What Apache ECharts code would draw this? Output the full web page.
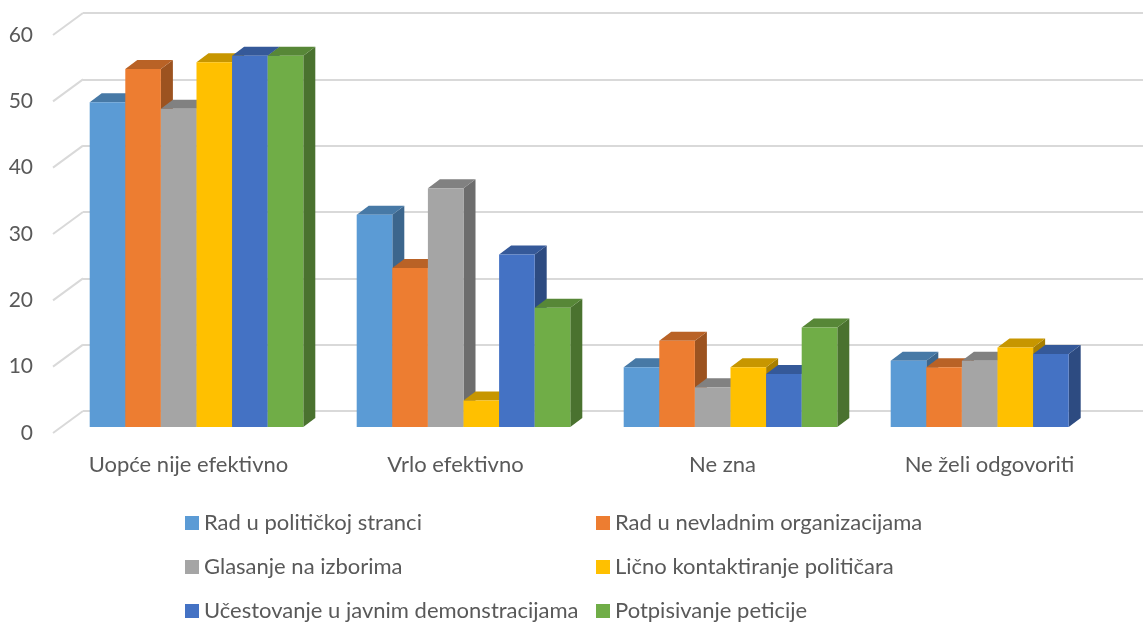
<!DOCTYPE html>
<html>
<head>
<meta charset="utf-8">
<script src="https://cdn.jsdelivr.net/npm/echarts@6/dist/echarts.min.js"></script>
<style>
  html, body { margin: 0; padding: 0; background: #fff; }
  #chart { width: 1143px; height: 624px; }
</style>
</head>
<body>
<div id="chart"></div>
<script>
const categories = ['Uopće nije efektivno', 'Vrlo efektivno', 'Ne zna', 'Ne želi odgovoriti'];
const seriesNames = [
  'Rad u političkoj stranci',
  'Rad u nevladnim organizacijama',
  'Glasanje na izborima',
  'Lično kontaktiranje političara',
  'Učestovanje u javnim demonstracijama',
  'Potpisivanje peticije'
];
const politickaStranka = [49, 32, 9, 10];
const nevladineOrg = [54, 24, 13, 9];
const glasanje = [48, 36, 6, 10];
const kontaktiranje = [55, 4, 9, 12];
const demonstracije = [56, 26, 8, 11];
const peticija = [56, 18, 15, null];
const seriesValues = [politickaStranka, nevladineOrg, glasanje, kontaktiranje, demonstracije, peticija];
const yTicks = [0, 10, 20, 30, 40, 50, 60];

const colors = ['#5B9BD5', '#ED7D31', '#A5A5A5', '#FFC000', '#4472C4', '#70AD47'];
const FONT = 'Lato';
const TEXT = '#595959';
const DX = 12, DY = 9;      // depth of a bar
const WX = 30, WY = 22;     // depth of the floor

function shade(hex, f) {
  const n = parseInt(hex.slice(1), 16);
  const r = Math.round(((n >> 16) & 255) * f);
  const g = Math.round(((n >> 8) & 255) * f);
  const b = Math.round((n & 255) * f);
  return 'rgb(' + r + ',' + g + ',' + b + ')';
}

function barRenderer(k) {
  return function (params, api) {
    const val = api.value(1);
    if (val == null || isNaN(val)) return null;
    const cat = api.value(0);
    const base = api.coord([cat, 0]);
    const top = api.coord([cat, val]);
    const band = api.size([1, 0])[0];
    const w = band * 0.8 / 6;
    const x0 = base[0] + (k - 3) * w;
    const x1 = x0 + w;
    const ty = top[1], by = base[1];
    const c = colors[k];
    return {
      type: 'group',
      children: [
        { type: 'polygon', shape: { points: [[x1, ty], [x1 + DX, ty - DY], [x1 + DX, by - DY], [x1, by]] },
          style: { fill: shade(c, 0.66) } },
        { type: 'polygon', shape: { points: [[x0, ty], [x1, ty], [x1 + DX, ty - DY], [x0 + DX, ty - DY]] },
          style: { fill: shade(c, 0.78) } },
        { type: 'rect', shape: { x: x0, y: ty, width: w, height: by - ty },
          style: { fill: c } }
      ]
    };
  };
}

const chart = echarts.init(document.getElementById('chart'));

const series = [
  {
    type: 'custom',
    xAxisIndex: 0, yAxisIndex: 0,
    silent: true,
    data: yTicks.map(v => [0, v]),
    renderItem: function (params, api) {
      const p = api.coord([0, api.value(1)]);
      return { type: 'line', shape: { x1: p[0] - WX, y1: p[1] + WY, x2: p[0], y2: p[1] },
        style: { stroke: '#D9D9D9', lineWidth: 2 } };
    }
  }
];
seriesValues.forEach(function (vals, k) {
  series.push({
    name: seriesNames[k],
    type: 'custom',
    xAxisIndex: 1, yAxisIndex: 1,
    itemStyle: { color: colors[k] },
    data: vals.map((v, i) => [i, v == null ? NaN : v]),
    renderItem: barRenderer(k)
  });
});

const legendBase = {
  orient: 'vertical', top: 512, height: 112, padding: 0,
  itemGap: 22, itemWidth: 14, itemHeight: 14, icon: 'rect',
  textStyle: { color: TEXT, fontFamily: FONT, fontSize: 22 }
};

chart.setOption({
  backgroundColor: '#fff',
  animation: false,
  grid: [
    { left: 83, right: 0, top: 13, bottom: 213 },     // back wall
    { left: 63, right: 12, top: 29.2, bottom: 197 },  // bars
    { left: 53, right: 0, top: 35, bottom: 191 }      // value labels
  ],
  xAxis: [
    { gridIndex: 0, type: 'value', min: 0, max: 1, show: false },
    { gridIndex: 1, type: 'category', data: categories,
      axisLine: { show: false }, axisTick: { show: false },
      axisLabel: { color: TEXT, fontFamily: FONT, fontSize: 22, margin: 27, padding: [0, 16, 0, 0] } },
    { gridIndex: 2, type: 'value', min: 0, max: 1, show: false }
  ],
  yAxis: [
    { gridIndex: 0, type: 'value', min: 0, max: 60, interval: 10,
      axisLine: { show: false }, axisTick: { show: false }, axisLabel: { show: false },
      splitLine: { lineStyle: { color: '#D9D9D9', width: 2 } } },
    { gridIndex: 1, type: 'value', min: 0, max: 60, interval: 10, show: false,
      splitLine: { show: false } },
    { gridIndex: 2, type: 'value', min: 0, max: 60, interval: 10,
      axisLine: { show: false }, axisTick: { show: false }, splitLine: { show: false },
      axisLabel: { color: TEXT, fontFamily: FONT, fontSize: 21, margin: 20 } }
  ],
  legend: [
    Object.assign({ data: [seriesNames[0], seriesNames[2], seriesNames[4]], left: 185 }, legendBase),
    Object.assign({ data: [seriesNames[1], seriesNames[3], seriesNames[5]], left: 596 }, legendBase)
  ],
  series: series
});
</script>
</body>
</html>
